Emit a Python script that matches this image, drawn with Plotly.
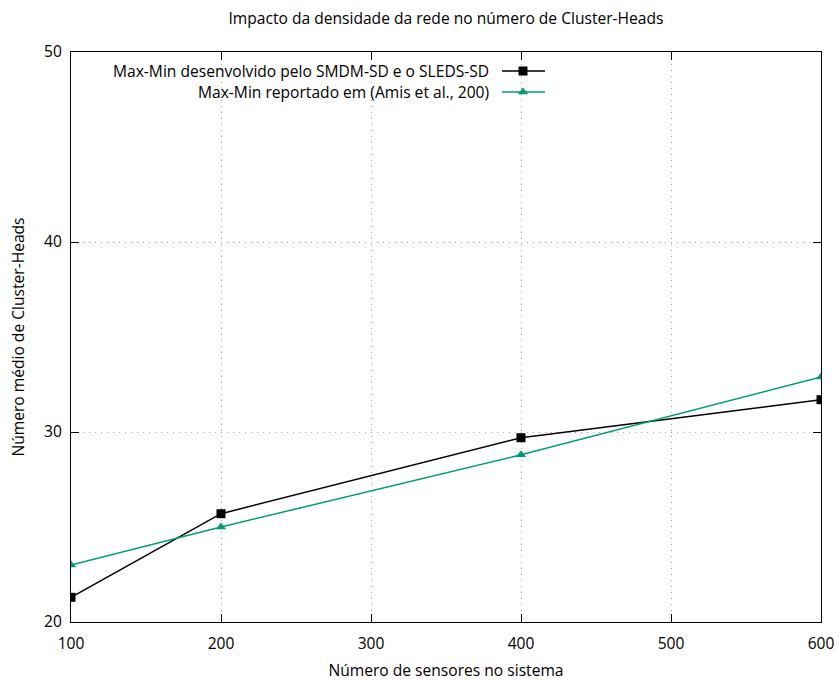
import plotly.graph_objects as go

x_sensors = [100, 200, 400, 600]
smdm_vals = [21.3, 25.7, 29.7, 31.7]
amis_vals = [23.0, 25.0, 28.8, 32.9]
name_smdm = "Max-Min desenvolvido pelo SMDM-SD e o SLEDS-SD"
name_amis = "Max-Min reportado em (Amis et al., 200)"
x_ticks = [100, 200, 300, 400, 500, 600]
y_ticks = [20, 30, 40, 50]

BLACK = "#000000"
GREEN = "#009e73"
FONT = "Open Sans"
FS = 15.6

fig = go.Figure()
fig.add_trace(go.Scatter(x=x_sensors, y=smdm_vals, mode="lines+markers", name=name_smdm,
                         line=dict(color=BLACK, width=1.5),
                         marker=dict(symbol="square", size=9, color=BLACK),
                         showlegend=False))
fig.add_trace(go.Scatter(x=x_sensors, y=amis_vals, mode="lines+markers", name=name_amis,
                         line=dict(color=GREEN, width=1.5),
                         marker=dict(symbol="triangle-up", size=9, color=GREEN),
                         showlegend=False))

W, H = 838, 681
L, R, T, B = 71, 17, 52, 59
SX0, SX1 = L, W - R
SY0, SY1 = T, H - B
def px(xp):
    return (xp - SX0) / (SX1 - SX0)
def py(yp):
    return 1 - (yp - SY0) / (SY1 - SY0)

# manual legend (text left of sample, gnuplot style) on an overlay axis in [0,1]
legend_rows = [(name_smdm, BLACK, "square", 71), (name_amis, GREEN, "triangle-up", 92)]
for label, col, sym, ypix in legend_rows:
    fig.add_trace(go.Scatter(x=[px(502), px(545)], y=[py(ypix), py(ypix)], xaxis="x2", yaxis="y2",
                             mode="lines", line=dict(color=col, width=1.5), showlegend=False,
                             hoverinfo="skip"))
    fig.add_trace(go.Scatter(x=[px(523)], y=[py(ypix)], xaxis="x2", yaxis="y2",
                             mode="markers", marker=dict(symbol=sym, size=9, color=col),
                             showlegend=False, hoverinfo="skip"))
    fig.add_annotation(x=px(491), y=py(ypix), xref="x2", yref="y2", text=label,
                       showarrow=False, xanchor="right", yanchor="middle",
                       font=dict(family=FONT, size=FS, color=BLACK))

axis_common = dict(showline=True, linecolor=BLACK, linewidth=1, mirror="allticks",
                   ticks="inside", ticklen=8, tickcolor=BLACK, tickwidth=1,
                   showgrid=True, gridcolor="#a0a0a0", griddash="1px,5px", gridwidth=1,
                   zeroline=False, automargin=False,
                   tickfont=dict(family=FONT, size=FS, color=BLACK))

fig.update_layout(
    width=W, height=H,
    margin=dict(l=L, r=R, t=T, b=B),
    paper_bgcolor="white", plot_bgcolor="white",
    title=dict(text="Impacto da densidade da rede no número de Cluster-Heads",
               x=(L + (W - R)) / 2 / W, xanchor="center", y=1 - 19 / H, yanchor="middle",
               font=dict(family=FONT, size=FS, color=BLACK)),
    xaxis=dict(range=[100, 600], tickvals=x_ticks, ticklabelstandoff=7,
               title=dict(text="Número de sensores no sistema", standoff=24,
                          font=dict(family=FONT, size=FS, color=BLACK)),
               **axis_common),
    yaxis=dict(range=[20, 50], tickvals=y_ticks, ticklabelstandoff=5,
               title=dict(text="Número médio de Cluster-Heads", standoff=15,
                          font=dict(family=FONT, size=FS, color=BLACK)),
               **axis_common),
    xaxis2=dict(range=[0, 1], overlaying="x", visible=False, fixedrange=True),
    yaxis2=dict(range=[0, 1], overlaying="y", visible=False, fixedrange=True),
    showlegend=False,
)

fig.write_html("out.html", config={"displayModeBar": False},
               post_script="document.body.style.margin='0';document.body.style.overflow='hidden';")
